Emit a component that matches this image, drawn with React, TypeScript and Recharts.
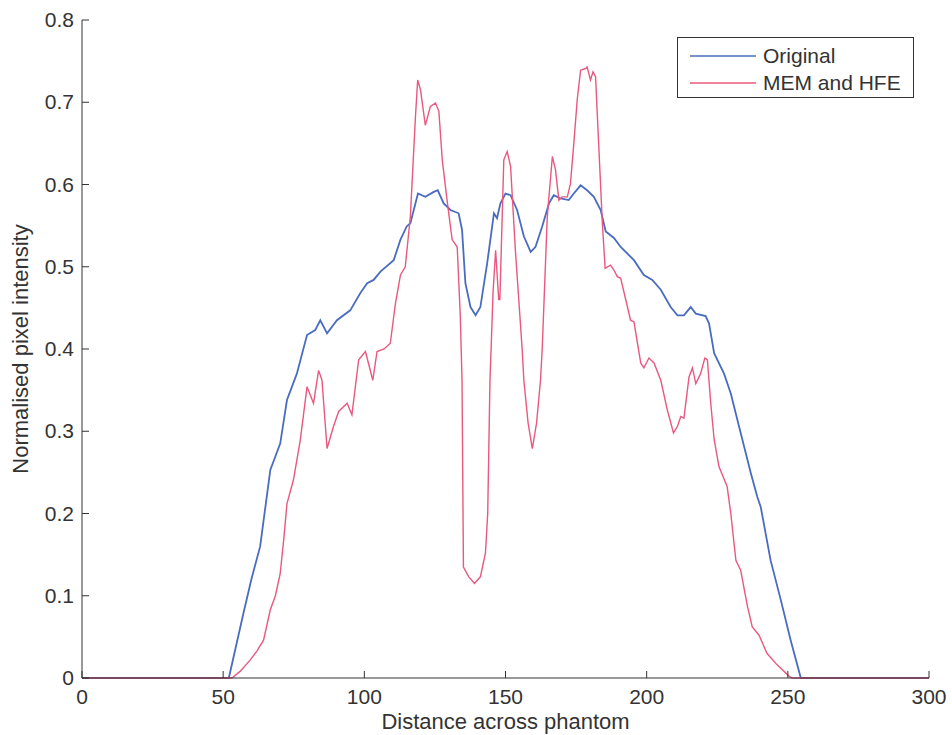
import { Legend, Line, LineChart, XAxis, YAxis } from "recharts";

// Original profile
const originalX = [
  0, 52, 57.2, 60, 63.1, 66.7, 70.2, 72.6, 76.1, 79.7, 82.6, 84.4, 86.8, 90.3, 95, 98.6, 101, 103.3, 105.7, 110.4,
  112.8, 115, 116.3, 119, 121.6, 124.6, 126, 128.1, 130.5, 133.4, 134.6, 135.8, 137.6, 139.4, 141.1, 143.5, 145.9,
  147, 148.2, 150, 151.8, 154.1, 156.5, 158.9, 160.6, 163, 165.4, 167.1, 169.5, 172.4, 174.2, 176.6, 178.9, 181.3,
  183.7, 185.5, 188.4, 190.8, 195.5, 199, 202, 205, 208.5, 210.9, 213.2, 215.6, 217.4, 220.9, 222.1, 223.9, 227.4,
  229.8, 232.7, 236.9, 239.2, 240.4, 243.9, 247.5, 251, 254.6, 300,
];
const originalY = [
  0, 0, 0.079, 0.12, 0.16, 0.253, 0.285, 0.338, 0.37, 0.417, 0.423, 0.435, 0.419, 0.435, 0.447, 0.468, 0.48, 0.484,
  0.494, 0.508, 0.533, 0.549, 0.553, 0.589, 0.585, 0.591, 0.593, 0.577, 0.569, 0.565, 0.545, 0.48, 0.451, 0.441,
  0.451, 0.504, 0.565, 0.559, 0.577, 0.589, 0.587, 0.569, 0.537, 0.518, 0.524, 0.549, 0.577, 0.587, 0.583, 0.581,
  0.589, 0.599, 0.593, 0.585, 0.569, 0.543, 0.535, 0.524, 0.508, 0.49, 0.484, 0.472, 0.451, 0.441, 0.441, 0.451,
  0.443, 0.44, 0.431, 0.395, 0.37, 0.346, 0.306, 0.249, 0.22, 0.208, 0.143, 0.095, 0.046, 0, 0,
];

// MEM and HFE profile
const memX = [
  0, 53.1, 56, 59.6, 62, 64.3, 66.7, 68.5, 70.2, 71.5, 72.6, 74.9, 77.3, 79.7, 82, 83.8, 85, 86.8, 89.1, 90.9, 93.9,
  95.6, 98, 100.4, 103, 104.5, 107, 109.2, 111, 112.8, 114.5, 116.3, 118.1, 118.9, 119.9, 121.6, 123.4, 125.2, 126.4,
  127.6, 129.3, 131.1, 132.9, 134, 134.6, 135.1, 137, 139, 141.1, 142.9, 143.7, 144.1, 144.5, 144.9, 145.6, 146.5,
  147.6, 148, 149.4, 150.6, 151.8, 153.5, 155.9, 156.5, 158, 159.5, 161, 162.4, 163, 164.8, 166.6, 167.7, 168.9,
  170.1, 171.9, 173, 174.2, 175.4, 176.6, 178.4, 178.9, 180.1, 181, 181.9, 183.1, 184.3, 185.3, 187.2, 188.4,
  189.6, 190.8, 194.3, 195.5, 197.9, 199, 200.8, 202.6, 205, 207.3, 209.5, 210.9, 212.1, 213.2, 215, 216.2, 217.4,
  219.1, 220.6, 221.5, 222.7, 223.9, 225.6, 228.5, 229.8, 231.6, 233.3, 235.7, 237.4, 239.8, 242.6, 246.2, 250.5,
  251.5, 300,
];
const memY = [
  0, 0, 0.008, 0.022, 0.033, 0.046, 0.083, 0.1, 0.127, 0.17, 0.212, 0.241, 0.289, 0.354, 0.334, 0.374, 0.362, 0.279,
  0.306, 0.324, 0.334, 0.32, 0.387, 0.397, 0.362, 0.397, 0.4, 0.407, 0.455, 0.49, 0.5, 0.561, 0.682, 0.727, 0.715,
  0.672, 0.695, 0.699, 0.689, 0.63, 0.581, 0.533, 0.524, 0.439, 0.362, 0.135, 0.123, 0.115, 0.123, 0.152, 0.2, 0.281,
  0.362, 0.4, 0.47, 0.52, 0.46, 0.46, 0.63, 0.64, 0.622, 0.52, 0.4, 0.362, 0.31, 0.279, 0.31, 0.362, 0.4, 0.561,
  0.634, 0.618, 0.581, 0.585, 0.585, 0.601, 0.65, 0.703, 0.739, 0.741, 0.743, 0.727, 0.737, 0.731, 0.642, 0.553,
  0.498, 0.502, 0.496, 0.488, 0.486, 0.435, 0.433, 0.383, 0.377, 0.389, 0.383, 0.362, 0.326, 0.298, 0.306, 0.318,
  0.316, 0.366, 0.377, 0.358, 0.37, 0.389, 0.387, 0.334, 0.29, 0.257, 0.233, 0.2, 0.143, 0.131, 0.087, 0.062, 0.052,
  0.03, 0.016, 0.002, 0, 0,
];

const xTicks = [0, 50, 100, 150, 200, 250, 300];
const yTicks = [0, 0.1, 0.2, 0.3, 0.4, 0.5, 0.6, 0.7, 0.8];

const ORIGINAL_COLOR = "#4a6cc0";
const MEM_COLOR = "#e8587f";
const AXIS_COLOR = "#333";
const FONT = "'Liberation Sans', Arial, sans-serif";
const TICK_LEN = 7;

const originalData = originalX.map((x, i) => ({ x, y: originalY[i] }));
const memData = memX.map((x, i) => ({ x, y: memY[i] }));

const series = [
  { name: "Original", color: ORIGINAL_COLOR },
  { name: "MEM and HFE", color: MEM_COLOR },
];

const fmtY = (v: number) => (v === 0 ? "0" : v.toFixed(1));

// ticks point inward like matlab, labels sit outside
function BottomTick({ x, y, payload }: any) {
  return (
    <g>
      <line x1={x} y1={y} x2={x} y2={y - TICK_LEN} stroke={AXIS_COLOR} />
      <text x={x} y={y + 26} textAnchor="middle" fontSize={21} fill="#333" fontFamily={FONT}>
        {payload.value}
      </text>
    </g>
  );
}

function LeftTick({ x, y, payload }: any) {
  return (
    <g>
      <line x1={x} y1={y} x2={x + TICK_LEN} y2={y} stroke={AXIS_COLOR} />
      <text x={x - 8} y={y + 7} textAnchor="end" fontSize={21} fill="#333" fontFamily={FONT}>
        {fmtY(payload.value)}
      </text>
    </g>
  );
}

function TopTick({ x, y }: any) {
  return <line x1={x} y1={y} x2={x} y2={y + TICK_LEN} stroke={AXIS_COLOR} />;
}

function RightTick({ x, y }: any) {
  return <line x1={x} y1={y} x2={x - TICK_LEN} y2={y} stroke={AXIS_COLOR} />;
}

function LegendBox() {
  return (
    <div
      style={{
        boxSizing: "border-box",
        width: 237,
        height: 61,
        border: `1px solid ${AXIS_COLOR}`,
        background: "#fff",
        padding: "4px 0 0 12px",
        fontFamily: FONT,
        fontSize: 21,
        color: "#333",
        lineHeight: "27px",
      }}
    >
      {series.map((s) => (
        <div key={s.name} style={{ display: "flex", alignItems: "center", height: 27 }}>
          <svg width={66} height={4}>
            <line x1={0} y1={2} x2={66} y2={2} stroke={s.color} strokeWidth={1.5} />
          </svg>
          <span style={{ marginLeft: 7 }}>{s.name}</span>
        </div>
      ))}
    </div>
  );
}

export default function App() {
  return (
    <div>
      <style>{"body { margin: 0; overflow: hidden; background: #fff; }"}</style>
      <LineChart width={952} height={735} margin={{ top: 20, right: 23, bottom: 0, left: 0 }}>
        <XAxis
          dataKey="x"
          type="number"
          domain={[0, 300]}
          ticks={xTicks}
          height={57}
          tickLine={false}
          tickSize={0}
          tickMargin={0}
          tick={BottomTick}
          axisLine={{ stroke: AXIS_COLOR }}
          label={{
            value: "Distance across phantom",
            position: "insideBottom",
            offset: 6,
            fontSize: 22,
            fill: "#333",
            fontFamily: FONT,
          }}
        />
        <XAxis
          xAxisId="top"
          orientation="top"
          type="number"
          domain={[0, 300]}
          ticks={xTicks}
          height={0}
          tickLine={false}
          tickSize={0}
          tickMargin={0}
          tick={TopTick}
          axisLine={{ stroke: AXIS_COLOR }}
        />
        <YAxis
          type="number"
          domain={[0, 0.8]}
          ticks={yTicks}
          width={82}
          tickLine={false}
          tickSize={0}
          tickMargin={0}
          tick={LeftTick}
          axisLine={{ stroke: AXIS_COLOR }}
          label={{
            value: "Normalised pixel intensity",
            angle: -90,
            position: "insideLeft",
            offset: 20,
            fontSize: 22,
            fill: "#333",
            fontFamily: FONT,
            style: { textAnchor: "middle" },
          }}
        />
        <YAxis
          yAxisId="right"
          orientation="right"
          type="number"
          domain={[0, 0.8]}
          ticks={yTicks}
          width={0}
          tickLine={false}
          tickSize={0}
          tickMargin={0}
          tick={RightTick}
          axisLine={{ stroke: AXIS_COLOR }}
        />
        <Legend
          layout="horizontal"
          verticalAlign="middle"
          align="center"
          content={() => <LegendBox />}
          wrapperStyle={{ top: 37, left: 677, width: 237, height: 61 }}
        />
        <Line
          data={originalData}
          dataKey="y"
          name="Original"
          type="linear"
          stroke={ORIGINAL_COLOR}
          strokeWidth={1.8}
          dot={false}
          isAnimationActive={false}
        />
        <Line
          data={memData}
          dataKey="y"
          name="MEM and HFE"
          type="linear"
          stroke={MEM_COLOR}
          strokeWidth={1.4}
          dot={false}
          isAnimationActive={false}
        />
      </LineChart>
    </div>
  );
}
